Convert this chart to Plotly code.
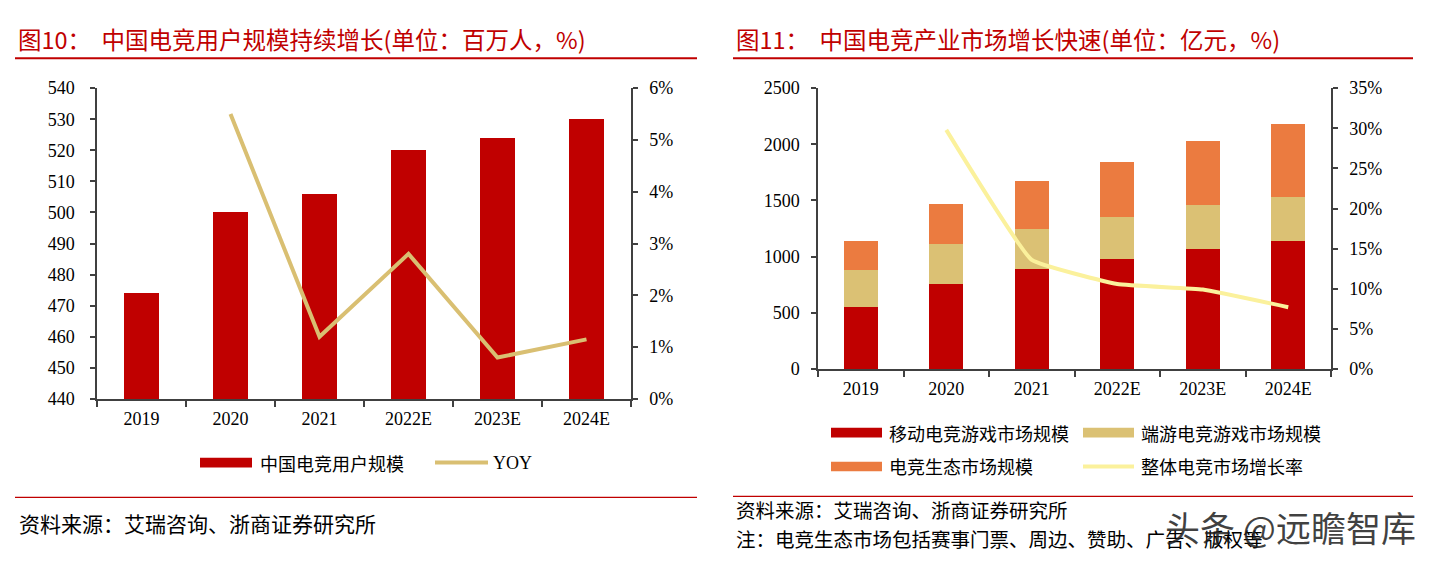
import plotly.graph_objects as go

W, H = 1432, 572

# ---- Left chart data ----
years = ["2019", "2020", "2021", "2022E", "2023E", "2024E"]
users = [474, 500, 506, 520, 524, 530]
yoy = [None, 5.5, 1.2, 2.8, 0.8, 1.15]

# ---- Right chart data ----
mobile = [550, 757, 886, 980, 1072, 1141]
pc = [330, 356, 364, 374, 387, 387]
eco = [260, 358, 422, 492, 568, 654]
growth = [None, 29.8, 13.6, 10.6, 9.9, 7.7]

RED = "#C00000"
TAN = "#DBC174"
ORANGE = "#EB7B40"
YELLOW = "#FBF19C"
AXC = "#404040"
SERIF = "Liberation Serif, Noto Sans CJK SC"
CJK = "Noto Sans CJK SC"

def px(x):
    return x / W

def py(y):
    return 1 - y / H

fig = go.Figure()

fig.add_trace(go.Bar(x=years, y=users, marker=dict(color=RED, line=dict(width=0)),
                     width=0.4, xaxis="x", yaxis="y", showlegend=False, name="中国电竞用户规模"))
fig.add_trace(go.Scatter(x=years, y=yoy, mode="lines", line=dict(color="#D9BF72", width=4),
                         xaxis="x", yaxis="y2", showlegend=False, name="YOY"))

fig.add_trace(go.Bar(x=years, y=mobile, marker=dict(color=RED, line=dict(width=0)), width=0.4,
                     xaxis="x3", yaxis="y3", showlegend=False, name="移动电竞游戏市场规模"))
fig.add_trace(go.Bar(x=years, y=pc, marker=dict(color=TAN, line=dict(width=0)), width=0.4,
                     xaxis="x3", yaxis="y3", showlegend=False, name="端游电竞游戏市场规模"))
fig.add_trace(go.Bar(x=years, y=eco, marker=dict(color=ORANGE, line=dict(width=0)), width=0.4,
                     xaxis="x3", yaxis="y3", showlegend=False, name="电竞生态市场规模"))
fig.add_trace(go.Scatter(x=years, y=growth, mode="lines", line=dict(color=YELLOW, width=4, shape="spline", smoothing=0.3),
                         xaxis="x3", yaxis="y4", showlegend=False, name="整体电竞市场增长率"))

tickfont = dict(family=SERIF, size=18, color="#000000")

def xax(domain, anchor):
    return dict(domain=domain, anchor=anchor, type="category", showline=True, linecolor=AXC, linewidth=1.5,
                ticks="outside", tickson="boundaries", ticklen=6, tickcolor=AXC, tickwidth=1.5,
                showgrid=False, tickfont=tickfont, zeroline=False, fixedrange=True, ticklabelstandoff=3)

def yax(domain, anchor, rng, dtick, side="left", overlaying=None, suffix="", standoff=10):
    d = dict(domain=domain, anchor=anchor, range=rng, dtick=dtick, showline=True, linecolor=AXC, linewidth=1.5,
             ticks="outside", ticklen=5, tickcolor=AXC, tickwidth=1.5, showgrid=False, tickfont=tickfont,
             zeroline=False, side=side, ticksuffix=suffix, fixedrange=True, ticklabelstandoff=standoff)
    if overlaying:
        d["overlaying"] = overlaying
    return d

ldom_x = [px(97), px(631)]
ldom_y = [py(403), py(81)]
rdom_x = [px(818), px(1331)]
rdom_y = [py(372), py(81)]

fig.update_layout(
    width=W, height=H, margin=dict(l=0, r=0, t=0, b=0),
    paper_bgcolor="white", plot_bgcolor="white",
    barmode="stack", showlegend=False,
    xaxis=xax(ldom_x, "y"),
    yaxis=yax(ldom_y, "x", [440, 540], 10, standoff=12),
    yaxis2=yax(ldom_y, "x", [0, 6], 1, side="right", overlaying="y", suffix="%", standoff=8),
    xaxis3=xax(rdom_x, "y3"),
    yaxis3=yax(rdom_y, "x3", [0, 2500], 500, standoff=8),
    yaxis4=yax(rdom_y, "x3", [0, 35], 5, side="right", overlaying="y3", suffix="%", standoff=8),
)

shapes = []
annots = []

# header / footer rules
for x0, x1 in [(15, 697), (733, 1413)]:
    shapes.append(dict(type="line", xref="paper", yref="paper", x0=px(x0), x1=px(x1), y0=py(50), y1=py(50),
                       line=dict(color=RED, width=2)))
shapes.append(dict(type="line", xref="paper", yref="paper", x0=px(15), x1=px(697), y0=py(505), y1=py(505),
                   line=dict(color=RED, width=1.2)))
shapes.append(dict(type="line", xref="paper", yref="paper", x0=px(733), x1=px(1413), y0=py(504), y1=py(504),
                   line=dict(color=RED, width=1.2)))

# titles
annots.append(dict(text="图10：  中国电竞用户规模持续增长(单位：百万人，%)", x=px(16), y=py(30), xref="paper", yref="paper",
                   xanchor="left", yanchor="middle", showarrow=False, font=dict(family=CJK, size=23.5, color=RED)))
annots.append(dict(text="图11：  中国电竞产业市场增长快速(单位：亿元，%)", x=px(734), y=py(30), xref="paper", yref="paper",
                   xanchor="left", yanchor="middle", showarrow=False, font=dict(family=CJK, size=23.5, color=RED)))

legfont = dict(family=CJK, size=18, color="#000000")

# left legend
shapes.append(dict(type="rect", xref="paper", yref="paper", x0=px(200), x1=px(252), y0=py(474), y1=py(464),
                   fillcolor=RED, line=dict(width=0)))
annots.append(dict(text="中国电竞用户规模", x=px(258), y=py(469), xref="paper", yref="paper", xanchor="left",
                   yanchor="middle", showarrow=False, font=legfont))
shapes.append(dict(type="line", xref="paper", yref="paper", x0=px(435), x1=px(488), y0=py(469), y1=py(469),
                   line=dict(color="#D9BF72", width=4)))
annots.append(dict(text="YOY", x=px(491), y=py(469), xref="paper", yref="paper", xanchor="left",
                   yanchor="middle", showarrow=False, font=dict(family=SERIF, size=18, color="#000000")))

# right legend
for (x0, yc, col, txt) in [(831, 438, RED, "移动电竞游戏市场规模"), (1083, 438, TAN, "端游电竞游戏市场规模"),
                           (831, 473, ORANGE, "电竞生态市场规模")]:
    shapes.append(dict(type="rect", xref="paper", yref="paper", x0=px(x0), x1=px(x0 + 51), y0=py(yc + 5), y1=py(yc - 5),
                       fillcolor=col, line=dict(width=0)))
    annots.append(dict(text=txt, x=px(x0 + 56), y=py(yc), xref="paper", yref="paper", xanchor="left",
                       yanchor="middle", showarrow=False, font=legfont))
shapes.append(dict(type="line", xref="paper", yref="paper", x0=px(1083), x1=px(1134), y0=py(473), y1=py(473),
                   line=dict(color=YELLOW, width=4)))
annots.append(dict(text="整体电竞市场增长率", x=px(1139), y=py(473), xref="paper", yref="paper", xanchor="left",
                   yanchor="middle", showarrow=False, font=legfont))

# sources
annots.append(dict(text="资料来源：艾瑞咨询、浙商证券研究所", x=px(17), y=py(532), xref="paper", yref="paper",
                   xanchor="left", yanchor="middle", showarrow=False, font=dict(family=CJK, size=21, color="#000000")))
annots.append(dict(text="资料来源：艾瑞咨询、浙商证券研究所", x=px(734), y=py(518), xref="paper", yref="paper",
                   xanchor="left", yanchor="middle", showarrow=False, font=dict(family=CJK, size=19.5, color="#000000")))
annots.append(dict(text="注：电竞生态市场包括赛事门票、周边、赞助、广告、版权等", x=px(734), y=py(548), xref="paper", yref="paper",
                   xanchor="left", yanchor="middle", showarrow=False, font=dict(family=CJK, size=19.5, color="#000000")))
# watermark
annots.append(dict(text="头条 @远瞻智库", x=px(1418), y=py(535), xref="paper", yref="paper",
                   xanchor="right", yanchor="middle", showarrow=False,
                   font=dict(family=CJK, size=35, color="rgba(30,30,30,0.85)")))

fig.update_layout(shapes=shapes, annotations=annots)

fig.write_html("out.html", config={"displayModeBar": False},
               post_script="document.body.style.margin='0';document.body.style.overflow='hidden';")
